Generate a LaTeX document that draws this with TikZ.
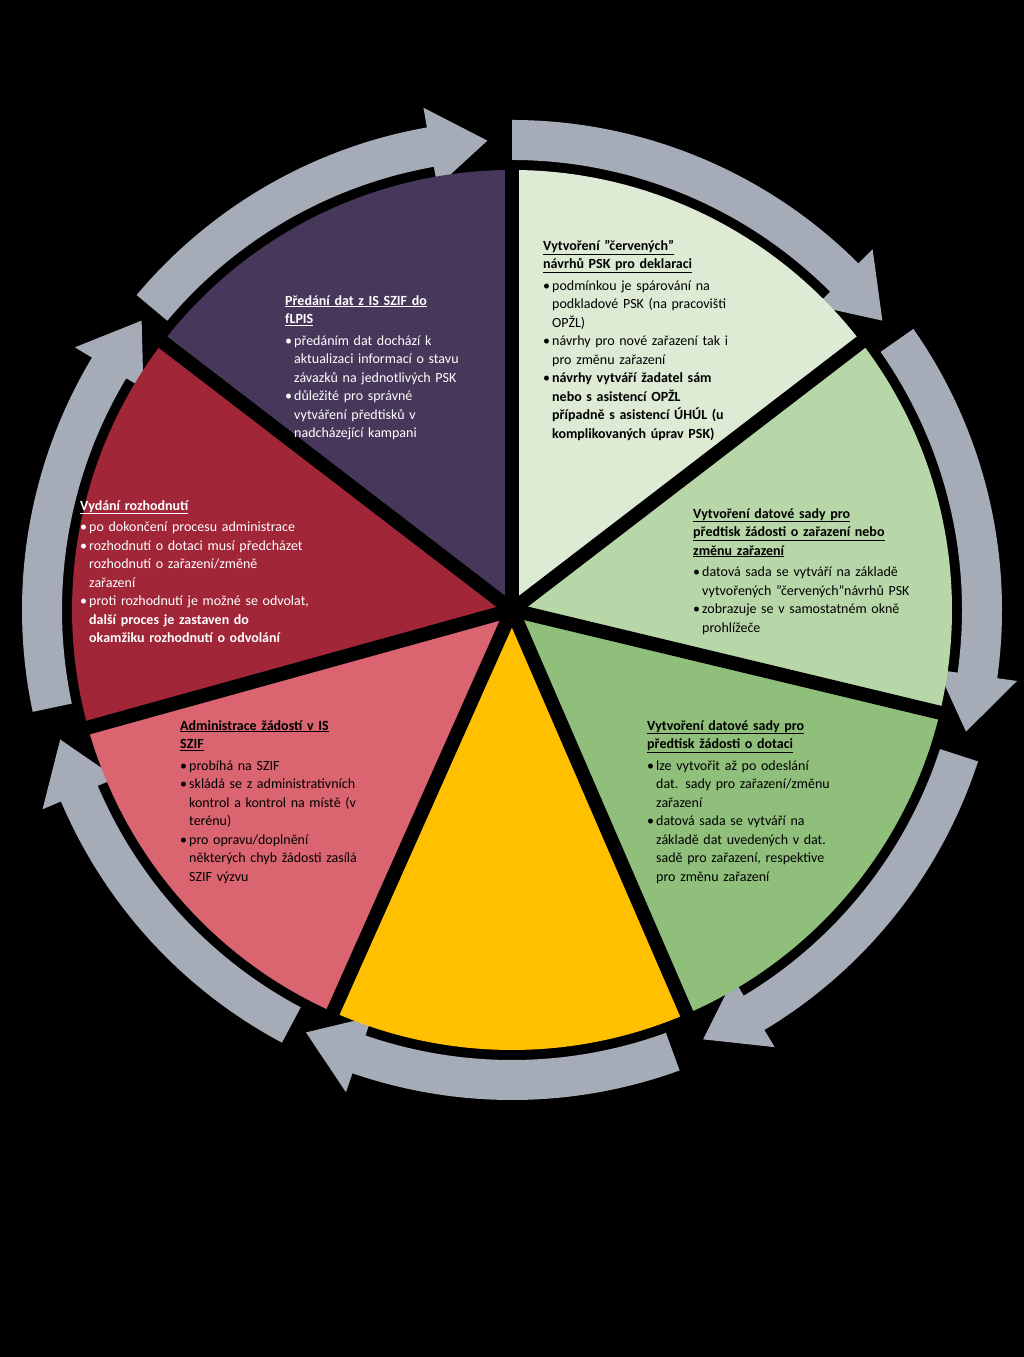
\documentclass[tikz,border=0pt]{standalone}
\usepackage{fontspec}
\setmainfont{Carlito}
\usetikzlibrary{calc}
\definecolor{cRing}{RGB}{166,172,183}
\definecolor{cGreenA}{RGB}{221,235,213}
\definecolor{cGreenB}{RGB}{183,215,168}
\definecolor{cGreenC}{RGB}{143,191,122}
\definecolor{cYellow}{RGB}{255,192,0}
\definecolor{cPink}{RGB}{218,101,113}
\definecolor{cRed}{RGB}{160,38,56}
\definecolor{cPurple}{RGB}{71,55,90}
\newcommand\bul[1]{\par\hangindent=9pt\hangafter=1\noindent\makebox[9pt][l]{\textbullet}#1}
\newcommand\ttl[1]{{\bfseries #1}\par\vspace{3pt}}
\newcommand\qq{\symbol{34}}
\newcommand\ringarrow[2]{%
  \fill[cRing] ($(C)+(#1:450)$) arc[start angle=#1,end angle=#2+7,radius=450]
    -- ($(C)+(#2+7:430)$) -- ($(C)+(#2:470)$) -- ($(C)+(#2+7:510)$)
    -- ($(C)+(#2+7:490)$) arc[start angle=#2+7,end angle=#1,radius=490] -- cycle;}
\newcommand\piewedge[3]{%
  \fill[#3] (C) -- ($(C)+(#1:440)$) arc[start angle=#1,end angle=#2,radius=440] -- cycle;}
\tikzset{
  seg/.style={anchor=north west, inner sep=0pt, font=\fontsize{14}{18.5}\selectfont},
}
\begin{document}
\begin{tikzpicture}[x=1pt,y=1pt]
  \fill[black] (0,0) rectangle (1024,1357);
  \useasboundingbox (0,0) rectangle (1024,1357);
  \coordinate (C) at (512,747);
  % arrows around
  \ringarrow{90}{38}
  \ringarrow{35}{-15}
  \ringarrow{-18}{-66}
  \ringarrow{-70}{-116}
  \ringarrow{-118}{-164}
  \ringarrow{192}{142}
  \ringarrow{140}{93}
  % pie
  \piewedge{90}{37.5}{cGreenA}
  \piewedge{37.5}{-13.5}{cGreenB}
  \piewedge{-13.5}{-66.6}{cGreenC}
  \piewedge{-66.6}{-114}{cYellow}
  \piewedge{-114}{-164.5}{cPink}
  \piewedge{195.5}{142.5}{cRed}
  \piewedge{142.5}{90}{cPurple}
  \foreach \a in {90,37.5,-13.5,-66.6,-114,-164.5,142.5}
    \draw[black, line width=14pt] (C) -- ($(C)+(\a:445)$);
  \fill[black] (C) circle (14);
  % texts
  \node[seg, text width=205pt] (tGreenA) at (543,1117) {\raggedright
    \ttl{\underline{Vytvoření \qq červených\qq}\newline\underline{návrhů PSK pro deklaraci}}
    \bul{podmínkou je spárování na\newline podkladové PSK (na pracovišti\newline OPŽL)}
    \bul{návrhy pro nové zařazení tak i\newline pro změnu zařazení}
    \bul{\bfseries návrhy vytváří žadatel sám\newline nebo s asistencí OPŽL\newline případně s asistencí ÚHÚL (u\newline komplikovaných úprav PSK)}\par};
  \node[seg, text width=245pt] (tGreenB) at (693,849) {\raggedright
    \ttl{\underline{Vytvoření datové sady pro}\newline\underline{předtisk žádosti o zařazení nebo}\newline\underline{změnu zařazení}}
    \bul{datová sada se vytváří na základě\newline vytvořených \qq červených\qq návrhů PSK}
    \bul{zobrazuje se v samostatném okně\newline prohlížeče}\par};
  \node[seg, text width=205pt] (tGreenC) at (647,637) {\raggedright
    \ttl{\underline{Vytvoření datové sady pro}\newline\underline{předtisk žádosti o dotaci}}
    \bul{lze vytvořit až po odeslání\newline dat. sady pro zařazení/změnu\newline zařazení}
    \bul{datová sada se vytváří na\newline základě dat uvedených v dat.\newline sadě pro zařazení, respektive\newline pro změnu zařazení}\par};
  \node[seg, text width=200pt] (tPink) at (180,637) {\raggedright
    \ttl{\underline{Administrace žádostí v IS}\newline\underline{SZIF}}
    \bul{probíhá na SZIF}
    \bul{skládá se z administrativních\newline kontrol a kontrol na místě (v\newline terénu)}
    \bul{pro opravu/doplnění\newline některých chyb žádosti zasílá\newline SZIF výzvu}\par};
  \node[seg, text width=270pt, text=white] (tRed) at (80,857) {\raggedright
    \ttl{\underline{Vydání rozhodnutí}}
    \bul{po dokončení procesu administrace}
    \bul{rozhodnutí o dotaci musí předcházet\newline rozhodnutí o zařazení/změně\newline zařazení}
    \bul{proti rozhodnutí je možné se odvolat,\newline\bfseries další proces je zastaven do\newline okamžiku rozhodnutí o odvolání}\par};
  \node[seg, text width=200pt, text=white] (tPurple) at (285,1062) {\raggedright
    \ttl{\underline{Předání dat z IS SZIF do}\newline\underline{fLPIS}}
    \bul{předáním dat dochází k\newline aktualizaci informací o stavu\newline závazků na jednotlivých PSK}
    \bul{důležité pro správné\newline vytváření předtisků v\newline nadcházející kampani}\par};
\end{tikzpicture}
\end{document}
